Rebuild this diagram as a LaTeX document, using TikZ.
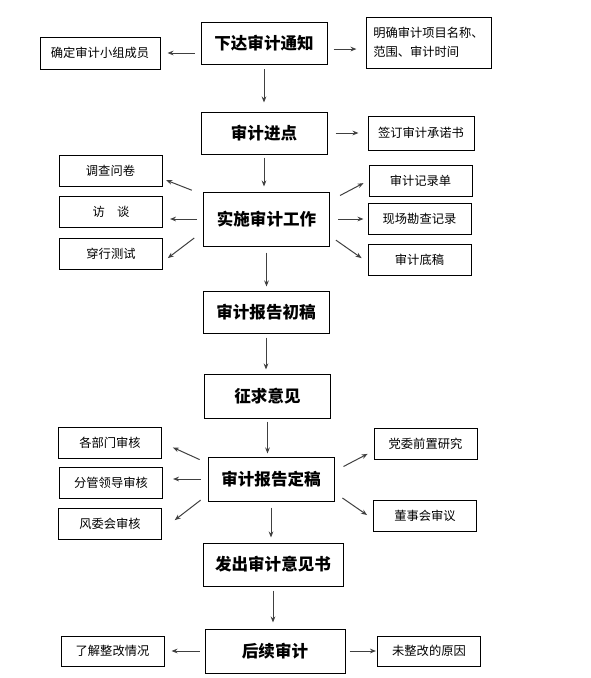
\documentclass[tikz,border=0pt]{standalone}
\usepackage{fontspec}
\setmainfont{Noto Sans CJK SC}
\usetikzlibrary{arrows.meta}
\definecolor{linkgray}{HTML}{404040}

\begin{document}
\begin{tikzpicture}[
        x=0.75pt, y=-0.75pt,
        >={Stealth[length=4.5pt, width=3.5pt]},
        stage/.style={draw, line width=0.75pt, align=center, minimum width=94.5pt, minimum height=31.5pt, inner sep=2pt, font=\bfseries\fontsize{12.4}{14}\selectfont},
        item/.style={draw, line width=0.75pt, align=center, minimum width=77.25pt, minimum height=23.25pt, inner sep=2pt, font=\fontsize{9.2}{11}\selectfont},
        link/.style={->, line width=0.75pt, linkgray}
    ]
        \path[use as bounding box] (0, 0) rectangle (591, 678);

        \node[stage] (notice) at (264, 43.5) {下达审计通知};
        \node[stage] (entry) at (264, 133) {审计进点};
        \node[stage, minimum height=40.5pt] (work) at (266.5, 219) {实施审计工作};
        \node[stage] (draft) at (266, 312) {审计报告初稿};
        \node[stage, minimum height=33pt] (opinion) at (267.5, 396) {征求意见};
        \node[stage, minimum height=33pt] (final) at (271, 479) {审计报告定稿};
        \node[stage, minimum width=105pt, minimum height=32.25pt] (issue) at (273, 564.5) {发出审计意见书};
        \node[stage, minimum width=105pt, minimum height=33pt] (follow) at (275, 651) {后续审计};

        \node[item, minimum width=90pt, minimum height=24pt] (team) at (100, 53) {确定审计小组成员};
        \node[item, align=left, minimum width=93.75pt, minimum height=38.25pt, font=\fontsize{9.2}{14}\selectfont] (scope) at (428.5, 42.5) {明确审计项目名称、\\范围、审计时间};
        \node[item, minimum width=79.5pt, minimum height=25.5pt] (pledge) at (421, 133) {签订审计承诺书};

        \node[item] (quest) at (110.5, 170.5) {调查问卷};
        \node[item] (talk) at (111, 211.5) {访\hspace{1em}谈};
        \node[item] (walk) at (111, 253.5) {穿行测试};
        \node[item] (record) at (420.5, 180.5) {审计记录单};
        \node[item] (site) at (419.5, 218.5) {现场勘查记录};
        \node[item] (paper) at (419.5, 259.5) {审计底稿};

        \node[item] (dept) at (110, 442.5) {各部门审核};
        \node[item] (lead) at (111, 482.5) {分管领导审核};
        \node[item] (risk) at (110, 523.5) {风委会审核};
        \node[item] (party) at (425.5, 443.5) {党委前置研究};
        \node[item] (board) at (425, 515.5) {董事会审议};

        \node[item, minimum height=22.5pt] (learn) at (112.5, 651) {了解整改情况};
        \node[item, minimum height=22.5pt] (reason) at (429, 651) {未整改的原因};

        \draw[link, shorten <=3pt, shorten >=6.75pt] (notice) -- (entry);
        \draw[link, shorten <=2.25pt, shorten >=3.75pt] (entry.south) -- (entry.south |- work.north);
        \draw[link, shorten <=4.5pt, shorten >=3pt] (work.south) -- (work.south |- draft.north);
        \draw[link, shorten <=3pt, shorten >=3pt] (draft.south) -- (draft.south |- opinion.north);
        \draw[link, shorten <=2.25pt, shorten >=2.25pt] (opinion.south) -- (opinion.south |- final.north);
        \draw[link, shorten <=4.5pt, shorten >=3.75pt] (final.south) -- (final.south |- issue.north);
        \draw[link, shorten <=3pt, shorten >=4.5pt] (issue.south) -- (issue.south |- follow.north);

        \draw[link, shorten <=4.5pt, shorten >=5.25pt] (notice.west |- team) -- (team.east);
        \draw[link, shorten <=4.5pt, shorten >=6.75pt] (notice.-5) -- (notice.-5 -| scope.west);
        \draw[link, shorten <=6pt, shorten >=6.75pt] (entry) -- (pledge);

        \draw[link, shorten <=9pt, shorten >=3pt] (work.159) -- (quest.-9);
        \draw[link, shorten <=4.5pt, shorten >=5.25pt] (work.west) -- (work.west -| talk.east);
        \draw[link, shorten <=8.25pt, shorten >=4.5pt] (work.191) -- (walk.-9);
        \draw[link, shorten <=8.5pt, shorten >=4.2pt] (work.16) -- (record.west);
        \draw[link, shorten <=6pt, shorten >=3pt] (work.east) -- (work.east -| site.west);
        \draw[link, shorten <=5.4pt, shorten >=5.4pt] (work.-15) -- (paper.183);

        \draw[link, shorten <=6.5pt, shorten >=9pt] (final.166) -- (dept.east);
        \draw[link, shorten <=5.25pt, shorten >=7.5pt] (final.west) -- (final.west -| lead.east);
        \draw[link, shorten <=6.5pt, shorten >=12pt] (final.194) -- (risk.-7);
        \draw[link, shorten <=7.6pt, shorten >=5pt] (final.7) -- (party.188);
        \draw[link, shorten <=7.2pt, shorten >=5.4pt] (final.-12) -- (board.184);

        \draw[link, shorten <=3.75pt, shorten >=5.25pt] (follow) -- (learn);
        \draw[link, shorten <=3pt, shorten >=0.75pt] (follow) -- (reason);
    \end{tikzpicture}
\end{document}
